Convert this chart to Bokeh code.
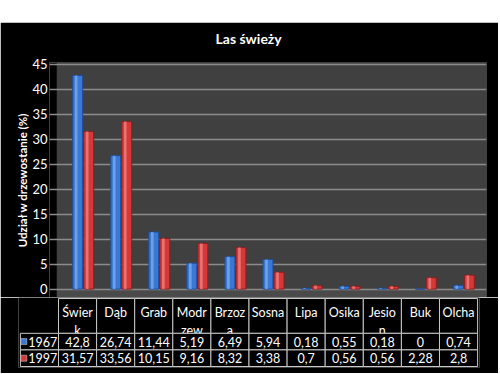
from bokeh.plotting import figure
from bokeh.models import FactorRange, Range1d, BoxAnnotation, ColumnDataSource, FixedTicker, Spacer, Title
from bokeh.layouts import column
from bokeh.transform import dodge
from bokeh.core.properties import value
from bokeh.embed import file_html
from bokeh.resources import INLINE

# ---- data ----
categories = ["Świerk", "Dąb", "Grab", "Modrzew", "Brzoza", "Sosna",
              "Lipa", "Osika", "Jesion", "Buk", "Olcha"]
header_labels = ["Świer\nk", "Dąb", "Grab", "Modr\nzew", "Brzoz\na", "Sosna",
                 "Lipa", "Osika", "Jesio\nn", "Buk", "Olcha"]
series_names = ["1967", "1997"]
values_1967 = [42.8, 26.74, 11.44, 5.19, 6.49, 5.94, 0.18, 0.55, 0.18, 0, 0.74]
values_1997 = [31.57, 33.56, 10.15, 9.16, 8.32, 3.38, 0.7, 0.56, 0.56, 2.28, 2.8]
y_ticks = [0, 5, 10, 15, 20, 25, 30, 35, 40, 45]
title_text = "Las świeży"
y_label = "Udział w drzewostanie (%)"

FONT = "Lato"
BLUE = "#3A78D4"
RED = "#D63838"
GRID_LINE = "#C8C8C8"
W = 498


def fmt(v):
    return str(v).replace(".", ",")


# ---- chart ----
chart = figure(
    x_range=FactorRange(factors=categories, range_padding=0.24, range_padding_units="absolute"),
    y_range=Range1d(-1.68, 45.40),
    width=W, height=275,
    x_axis_location=None,
    output_backend="svg", toolbar_location=None,
    min_border_left=49, min_border_right=12, min_border_top=37, min_border_bottom=0,
    background_fill_color="black", border_fill_color="black", outline_line_color=None,
    frame_align=False,
)
chart.title.text = title_text
chart.title.align = "left"
chart.title.offset = 166
chart.title.text_color = "white"
chart.title.text_font = FONT
chart.title.text_font_style = "bold"
chart.title.text_font_size = "14px"
chart.title.standoff = 10
# small empty title used as a gap between the real title and the plot wall
chart.add_layout(Title(text=" ", text_font_size="8px", standoff=0), "above")

chart.yaxis.ticker = FixedTicker(ticks=y_ticks)
chart.yaxis.axis_line_color = None
chart.yaxis.major_tick_line_color = None
chart.yaxis.minor_tick_line_color = None
chart.yaxis.major_tick_out = 0
chart.yaxis.major_tick_in = 0
chart.yaxis.minor_tick_out = 0
chart.yaxis.minor_tick_in = 0
chart.yaxis.major_label_standoff = 2
chart.yaxis.major_label_text_color = "white"
chart.yaxis.major_label_text_font = FONT
chart.yaxis.major_label_text_font_size = "13px"
chart.yaxis.axis_label = y_label
chart.yaxis.axis_label_text_color = "white"
chart.yaxis.axis_label_text_font = FONT
chart.yaxis.axis_label_text_font_style = "bold"
chart.yaxis.axis_label_text_font_size = "11.5px"
chart.yaxis.axis_label_standoff = 0
chart.xgrid.visible = False
chart.ygrid.ticker = FixedTicker(ticks=y_ticks)
chart.ygrid.grid_line_color = "#8C8C8C"
chart.ygrid.grid_line_width = 1.5

wall = BoxAnnotation(left=-0.05, bottom=0, fill_color="#404040", fill_alpha=1,
                     line_color=None, level="image")
floor = BoxAnnotation(left=-0.05, top=0, fill_color="#4A4A4A", fill_alpha=1,
                      line_color=None, level="image")
chart.add_layout(wall)
chart.add_layout(floor)

src = ColumnDataSource(dict(cat=categories, v1967=values_1967, v1997=values_1997))
chart.vbar(x=dodge("cat", 0.0, range=chart.x_range), top="v1967", width=0.26, source=src,
           fill_color=BLUE, line_color="#1F4E99")
chart.vbar(x=dodge("cat", -0.04, range=chart.x_range), top="v1967", width=0.07, source=src,
           fill_color="#8DBBF5", fill_alpha=0.6, line_color=None)
chart.vbar(x=dodge("cat", 0.29, range=chart.x_range), top="v1997", width=0.26, source=src,
           fill_color=RED, line_color="#8C1E1E")
chart.vbar(x=dodge("cat", 0.25, range=chart.x_range), top="v1997", width=0.07, source=src,
           fill_color="#F59A9A", fill_alpha=0.6, line_color=None)

# ---- data table ----
key = " "
table_x = FactorRange(factors=[key] + categories, range_padding=0.05, range_padding_units="absolute")
table = figure(
    x_range=table_x, y_range=Range1d(4.16, -0.06),
    width=W, height=76,
    x_axis_location=None, y_axis_location=None,
    output_backend="svg", toolbar_location=None,
    min_border_left=18, min_border_right=19, min_border_top=0, min_border_bottom=6,
    background_fill_color="black", border_fill_color="black", outline_line_color=None,
    frame_align=False,
)
table.grid.visible = False

HEADER_H = 2.1
row_y = [HEADER_H + 0.5, HEADER_H + 1.5]

hdr = ColumnDataSource(dict(cat=categories, label=header_labels))
table.rect(x="cat", y=HEADER_H / 2, width=1, height=HEADER_H, source=hdr,
           fill_color="black", line_color=GRID_LINE, line_width=1)
table.text(x="cat", y=0.42, text="label", source=hdr, text_align="center",
           text_baseline="top", text_color="white", text_font=value(FONT),
           text_font_size="12.5px", text_line_height=1.15)

cells = ColumnDataSource(dict(
    cat=categories + categories,
    y=[row_y[0]] * len(categories) + [row_y[1]] * len(categories),
    txt=[fmt(v) for v in values_1967] + [fmt(v) for v in values_1997],
))
table.rect(x="cat", y="y", width=1, height=1, source=cells,
           fill_color="black", line_color=GRID_LINE, line_width=1)
table.text(x="cat", y="y", text="txt", source=cells, text_align="center",
           text_baseline="middle", text_color="white", text_font=value(FONT),
           text_font_size="12.5px")

keys = ColumnDataSource(dict(k=[key, key], y=row_y, name=series_names,
                             color=[BLUE, RED]))
table.rect(x="k", y="y", width=1, height=1, source=keys,
           fill_color="black", line_color=GRID_LINE, line_width=1)
table.scatter(x=dodge("k", -0.41, range=table_x), y="y", source=keys, marker="square",
              size=6, fill_color="color", line_color="#DDDDDD", line_width=0.5)
table.text(x=dodge("k", 0.47, range=table_x), y="y", text="name", source=keys,
           text_align="right", text_baseline="middle", text_color="white",
           text_font=value(FONT), text_font_size="12.5px")

layout = column(Spacer(width=W, height=22), chart, table)
open("out.html", "w").write(file_html(layout, INLINE))
